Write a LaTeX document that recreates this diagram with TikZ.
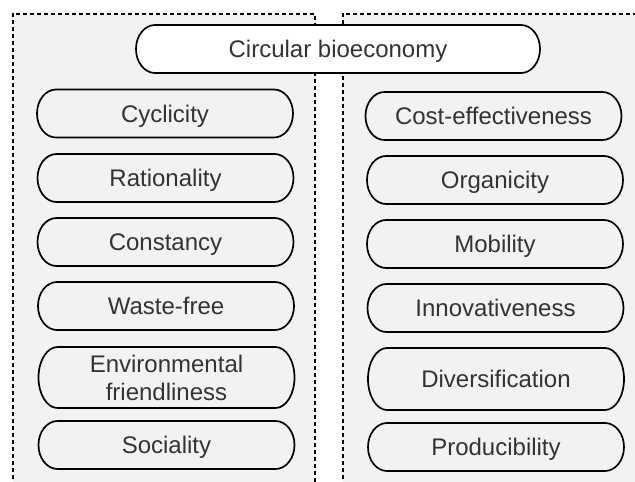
\documentclass[tikz,border=0pt]{standalone}
\usepackage{fontspec}
\setmainfont{Liberation Sans}
\usetikzlibrary{backgrounds}
\definecolor{panelgray}{HTML}{F2F2F2}
\definecolor{txt}{HTML}{333333}
\tikzset{
  panel/.style={draw=black, line width=2pt, dash pattern=on 4pt off 3pt},
  pill/.style={rectangle, outer sep=0pt, minimum width=256pt, minimum height=48pt, inner sep=0pt, text=txt, align=center, text height=17pt, text depth=0pt, font=\fontsize{24}{28}\selectfont},
  pillline/.style={draw=black, line width=1.7pt},
}
% #1 node name, #2 half height, #3 fill
\newcommand{\pilloutline}[3]{%
  \path[pillline, fill=#3] ([xshift=19pt]#1.north west) -- ([xshift=-19pt]#1.north east)
    arc[start angle=90, end angle=-90, x radius=19pt, y radius=#2]
    -- ([xshift=19pt]#1.south west)
    arc[start angle=270, end angle=90, x radius=19pt, y radius=#2] -- cycle;}
\begin{document}
\begin{tikzpicture}[x=1pt,y=-1pt]
\useasboundingbox (0,0) rectangle (635,482);
\node[pill, minimum width=404pt] (main) at (338,49) {Circular bioeconomy};
% left column
\node[pill] (l1) at (165,113.5) {Cyclicity};
\node[pill] (l2) at (165.5,178) {Rationality};
\node[pill] (l3) at (165.5,242) {Constancy};
\node[pill] (l4) at (166,306) {Waste-free};
\node[pill, minimum height=61pt, text height=45pt] (l5) at (166.5,377.5) {Environmental\\friendliness};
\node[pill] (l6) at (166.5,445) {Sociality};
% right column
\node[pill] (r1) at (493.5,116) {Cost-effectiveness};
\node[pill] (r2) at (495,180) {Organicity};
\node[pill] (r3) at (495,244) {Mobility};
\node[pill] (r4) at (495.5,308) {Innovativeness};
\node[pill, minimum height=62pt] (r5) at (496,379) {Diversification};
\node[pill] (r6) at (496,447) {Producibility};
\begin{scope}[on background layer]
  \begin{scope}
    \clip (0,0) rectangle (635,482);
    \fill[panelgray] (12.5,13.7) rectangle (315,500);
    \fill[panelgray] (342.7,13.7) rectangle (660,500);
    \draw[panel] (12.5,500) -- (12.5,13.7) -- (315,13.7) -- (315,500);
    \draw[panel] (342.7,500) -- (342.7,13.7) -- (660,13.7);
  \end{scope}
  \pilloutline{main}{24pt}{white}
  \pilloutline{l1}{24pt}{panelgray}
  \pilloutline{l2}{24pt}{panelgray}
  \pilloutline{l3}{24pt}{panelgray}
  \pilloutline{l4}{24pt}{panelgray}
  \pilloutline{l5}{30.5pt}{panelgray}
  \pilloutline{l6}{24pt}{panelgray}
  \pilloutline{r1}{24pt}{panelgray}
  \pilloutline{r2}{24pt}{panelgray}
  \pilloutline{r3}{24pt}{panelgray}
  \pilloutline{r4}{24pt}{panelgray}
  \pilloutline{r5}{31pt}{panelgray}
  \pilloutline{r6}{24pt}{panelgray}
\end{scope}
\end{tikzpicture}
\end{document}
